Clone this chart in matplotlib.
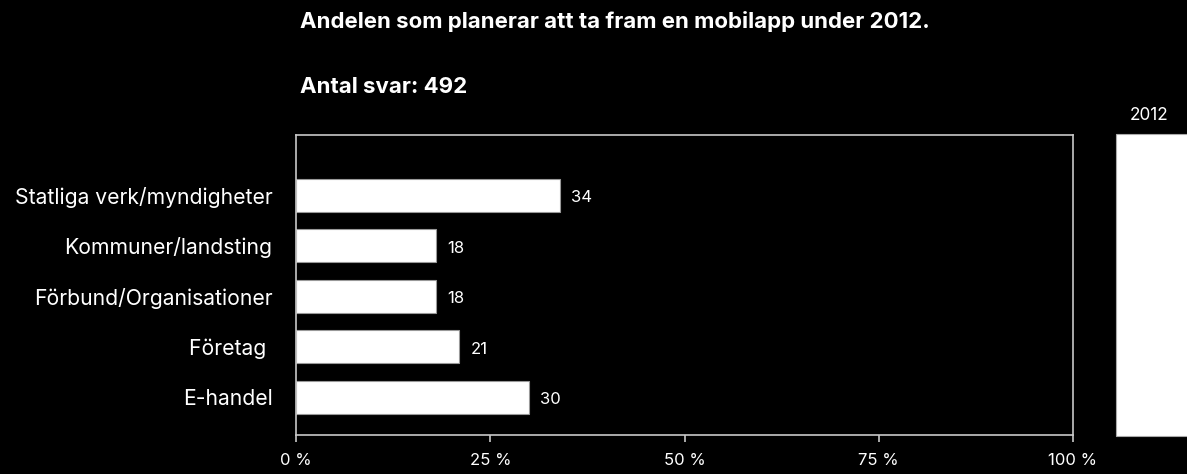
import matplotlib
matplotlib.use("Agg")
import matplotlib.pyplot as plt
from matplotlib.patches import Rectangle

categories = ["Statliga verk/myndigheter", "Kommuner/landsting", "Förbund/Organisationer", "Företag ", "E-handel"]
values = [34, 18, 18, 21, 30]
xticks = [0, 25, 50, 75, 100]
xtick_labels = ["0 %", "25 %", "50 %", "75 %", "100 %"]
title = "Andelen som planerar att ta fram en mobilapp under 2012."
subtitle = "Antal svar: 492"
legend_label = "2012"

plt.rcParams['font.family'] = ['Inter', 'DejaVu Sans']

W, H = 1187, 474
fig = plt.figure(figsize=(W / 100, H / 100), dpi=100, facecolor='black')
ax = fig.add_axes([296 / W, 1 - 435 / H, (1073 - 296) / W, (435 - 135) / H])
ax.set_facecolor('black')

ypos = list(range(len(categories)))
bars = ax.barh(ypos, values, height=0.65, color='white', edgecolor='#999999', linewidth=0.8)
ax.set_ylim(4.75, -1.19)
ax.set_xlim(0, 100)

for b, v in zip(bars, values):
    ax.annotate(str(v), (b.get_width(), b.get_y() + b.get_height() / 2),
                xytext=(8, -2), textcoords='offset points', va='center', ha='left',
                color='white', fontsize=12)

ax.set_yticks(ypos)
ax.set_yticklabels(categories, color='white', fontsize=15.2)
ax.tick_params(axis='y', length=0, pad=17)
ax.set_xticks(xticks)
ax.set_xticklabels(xtick_labels, color='white', fontsize=12)
ax.tick_params(axis='x', direction='out', length=5, width=1.2, colors='#c8c8c8', labelcolor='white', pad=8)

for s in ax.spines.values():
    s.set_color('#c8c8c8')
    s.set_linewidth(1.2)

fig.text(300 / W, 1 - 22 / H, title, color='white', fontsize=16, fontweight='bold', va='center', ha='left')
fig.text(300 / W, 1 - 87 / H, subtitle, color='white', fontsize=16, fontweight='bold', va='center', ha='left')

fig.patches.append(Rectangle((1116 / W, 1 - 436 / H), (1190 - 1116) / W, (436 - 134) / H,
                             transform=fig.transFigure, facecolor='white', edgecolor='#aaaaaa', linewidth=0.8))
fig.text(1149 / W, 1 - 115 / H, legend_label, color='white', fontsize=12.4, ha='center', va='center')

fig.savefig('out.png', dpi=100, facecolor='black')
